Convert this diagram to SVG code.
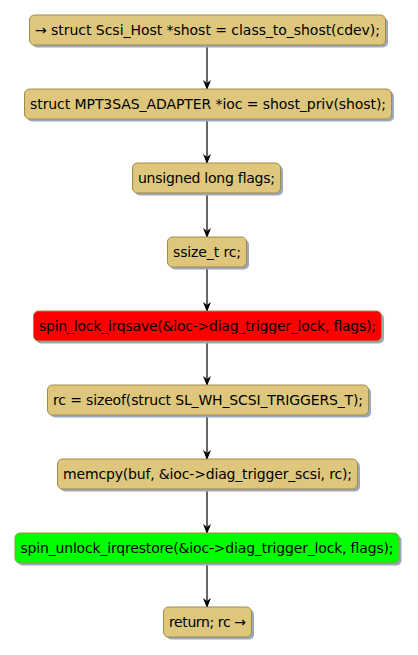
<svg xmlns="http://www.w3.org/2000/svg" width="418" height="655" viewBox="0 0 418 655">
<defs>
<style>
.n{fill:#DEC77D;stroke:#A18B48;stroke-width:1}
.s{fill:#9CA8BF}
.t{font-family:"DejaVu Sans",sans-serif;font-size:14px;fill:#000;text-anchor:middle}
.e{stroke:#000;stroke-width:1.2;fill:none}
</style>
<marker id="a" viewBox="0 0 10 10" refX="9" refY="5" markerWidth="10" markerHeight="10" markerUnits="userSpaceOnUse" orient="auto">
<path d="M0,1 L10,5 L0,9 L3,5 Z" fill="#000"/>
</marker>
</defs>
<rect width="418" height="655" fill="#fff"/>
<g id="edges">
<line class="e" x1="207" y1="45" x2="207" y2="89" marker-end="url(#a)"/>
<line class="e" x1="207" y1="119" x2="207" y2="163" marker-end="url(#a)"/>
<line class="e" x1="207" y1="193" x2="207" y2="237" marker-end="url(#a)"/>
<line class="e" x1="207" y1="267" x2="207" y2="311" marker-end="url(#a)"/>
<line class="e" x1="207" y1="341" x2="207" y2="385" marker-end="url(#a)"/>
<line class="e" x1="207" y1="415" x2="207" y2="459" marker-end="url(#a)"/>
<line class="e" x1="207" y1="489" x2="207" y2="533" marker-end="url(#a)"/>
<line class="e" x1="207" y1="563" x2="207" y2="607" marker-end="url(#a)"/>
</g>
<g id="n1"><rect class="s" x="32" y="17.5" width="356" height="30" rx="5"/><rect class="n" x="29.5" y="15" width="356" height="30" rx="5"/><text class="t" x="207.5" y="35" textLength="345" lengthAdjust="spacing">→ struct Scsi_Host *shost = class_to_shost(cdev);</text></g>
<g id="n2"><rect class="s" x="27" y="91.5" width="367" height="30" rx="5"/><rect class="n" x="24.5" y="89" width="367" height="30" rx="5"/><text class="t" x="208" y="109" textLength="356" lengthAdjust="spacing">struct MPT3SAS_ADAPTER *ioc = shost_priv(shost);</text></g>
<g id="n3"><rect class="s" x="135" y="165.5" width="148" height="30" rx="5"/><rect class="n" x="132.5" y="163" width="148" height="30" rx="5"/><text class="t" x="206.5" y="183" textLength="137" lengthAdjust="spacing">unsigned long flags;</text></g>
<g id="n4"><rect class="s" x="170" y="239.5" width="79" height="30" rx="5"/><rect class="n" x="167.5" y="237" width="79" height="30" rx="5"/><text class="t" x="207" y="257" textLength="68" lengthAdjust="spacing">ssize_t rc;</text></g>
<g id="n5"><rect class="s" x="36" y="313.5" width="348" height="30" rx="5"/><rect class="n" style="fill:#FF0000" x="33.5" y="311" width="348" height="30" rx="5"/><text class="t" x="207.5" y="331" textLength="337" lengthAdjust="spacing">spin_lock_irqsave(&amp;ioc-&gt;diag_trigger_lock, flags);</text></g>
<g id="n6"><rect class="s" x="50" y="387.5" width="321" height="30" rx="5"/><rect class="n" x="47.5" y="385" width="321" height="30" rx="5"/><text class="t" x="208" y="405" textLength="310" lengthAdjust="spacing">rc = sizeof(struct SL_WH_SCSI_TRIGGERS_T);</text></g>
<g id="n7"><rect class="s" x="60" y="461.5" width="300" height="30" rx="5"/><rect class="n" x="57.5" y="459" width="300" height="30" rx="5"/><text class="t" x="207.5" y="479" textLength="289" lengthAdjust="spacing">memcpy(buf, &amp;ioc-&gt;diag_trigger_scsi, rc);</text></g>
<g id="n8"><rect class="s" x="17.5" y="535.5" width="384" height="30" rx="5"/><rect class="n" style="fill:#00FF00" x="15" y="533" width="384" height="30" rx="5"/><text class="t" x="207" y="553" textLength="373" lengthAdjust="spacing">spin_unlock_irqrestore(&amp;ioc-&gt;diag_trigger_lock, flags);</text></g>
<g id="n9"><rect class="s" x="166" y="609.5" width="88" height="30" rx="5"/><rect class="n" x="163.5" y="607" width="88" height="30" rx="5"/><text class="t" x="207.5" y="627" textLength="77" lengthAdjust="spacing">return; rc →</text></g>
</svg>
